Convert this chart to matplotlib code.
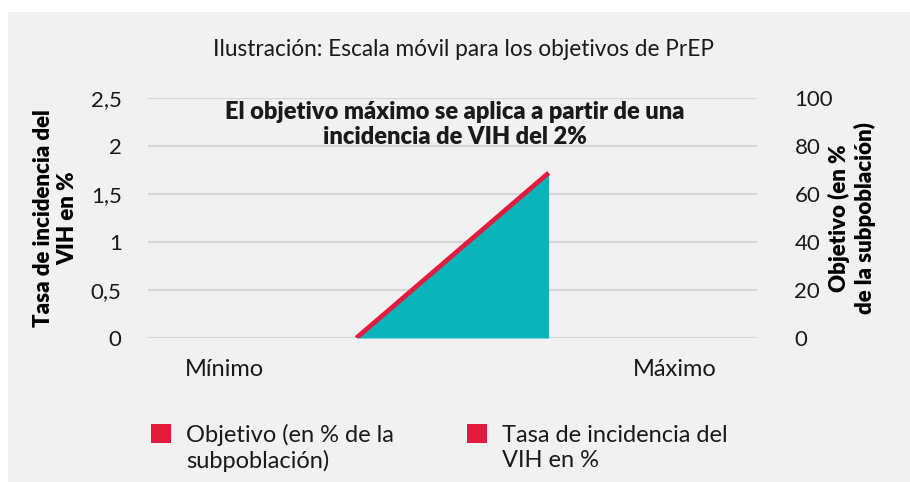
import matplotlib
matplotlib.use('Agg')
import matplotlib.pyplot as plt
from matplotlib.patches import Rectangle, Patch
from matplotlib.legend_handler import HandlerPatch

plt.rcParams.update({
  'font.family'   : ['Lato', 'DejaVu Sans'],
  'font.weight'   : 'normal',
  'font.size'     : 16,
  'text.color'    : '#1a1a1a',
  'xtick.color'   : '#1a1a1a',
  'ytick.color'   : '#1a1a1a',
})

# data
categories   = ['Mínimo', '', '', 'Máximo']
x_pos        = [0, 1, 2, 3]
tri_x        = [0.88, 2.16]      # where the sliding scale starts / ends
incidence    = [0.0, 1.72]       # Tasa de incidencia del VIH en %
objective    = [0.0, 68.8]       # Objetivo (en % de la subpoblación)
left_ticks   = [0, 0.5, 1, 1.5, 2, 2.5]
left_labels  = ['0', '0,5', '1', '1,5', '2', '2,5']
right_ticks  = [0, 20, 40, 60, 80, 100]

red  = '#e31b3d'
teal = '#0bb4ba'
bg   = '#f1f1f1'

fig = plt.figure(figsize=(9.1, 4.82), dpi=100)
fig.patch.set_facecolor('white')
fig.patches.append(Rectangle((8/910, 0), 1, 1 - 12/482, transform=fig.transFigure,
                             facecolor=bg, edgecolor='none', zorder=-10))

ax = fig.add_axes([148/910, 1 - 338/482, 609/910, 240/482])
ax2 = ax.twinx()
# ax (line) above ax2 (area + grid)
ax.set_zorder(ax2.get_zorder() + 1)
ax.patch.set_visible(False)
ax2.patch.set_visible(False)

ax2.fill_between(tri_x, objective, 0, color=teal, linewidth=0, zorder=2)
ax2.set_ylim(0, 100)
ax2.set_yticks(right_ticks)
ax2.yaxis.grid(True, color='#d6d6d6', linewidth=1.6, zorder=0)
ax2.set_axisbelow(True)

line, = ax.plot(tri_x, incidence, color=red, linewidth=3.4, solid_capstyle='butt', zorder=3)
ax.set_ylim(0, 2.5)
ax.set_xlim(-0.507, 3.547)
ax.set_yticks(left_ticks)
ax.set_yticklabels(left_labels)
ax.set_xticks(x_pos)
ax.set_xticklabels(categories)

for a in (ax, ax2):
    for s in a.spines.values():
        s.set_visible(False)
    a.tick_params(length=0, labelsize=16)
ax.tick_params(axis='y', pad=19)
ax.tick_params(axis='x', pad=15, labelsize=17)
ax2.tick_params(axis='y', pad=27)

ax.set_ylabel('Tasa de incidencia del\nVIH en %', fontsize=16, weight='heavy', linespacing=1.2)
ax.yaxis.set_label_coords(-0.115, 0.5)
ax2.set_ylabel('Objetivo (en %\nde la subpoblación)', fontsize=16, weight='heavy',
               linespacing=1.2, rotation=90)
ax2.yaxis.set_label_coords(1.117, 0.5)

ax.text(0.504, 0.89, 'El objetivo máximo se aplica a partir de una\nincidencia de VIH del 2%',
        transform=ax.transAxes, ha='center', va='center', fontsize=17, weight='heavy',
        linespacing=1.15, zorder=5)

fig.text(464/910, 1 - 50/482, 'Ilustración: Escala móvil para los objetivos de PrEP',
         ha='center', va='center', fontsize=16.3)


# square aligned with the first line of a two-line label
def top_square(legend, orig_handle, xdescent, ydescent, width, height, fontsize):
    return Rectangle((-xdescent, -ydescent + 0.62 * fontsize), width, height)


handles = [Patch(facecolor=red, edgecolor='none'), Patch(facecolor=red, edgecolor='none')]
labels = ['Objetivo (en % de la\nsubpoblación)', 'Tasa de incidencia del\nVIH en %']
fig.legend(handles, labels, loc='upper left', bbox_to_anchor=(130/910, 1 - 403/482),
           ncol=2, frameon=False, handlelength=0.85, handleheight=0.85,
           handletextpad=0.62, columnspacing=3.1, fontsize=17, labelspacing=0.2,
           handler_map={Patch: HandlerPatch(patch_func=top_square)})

fig.savefig('out.png', dpi=100)
